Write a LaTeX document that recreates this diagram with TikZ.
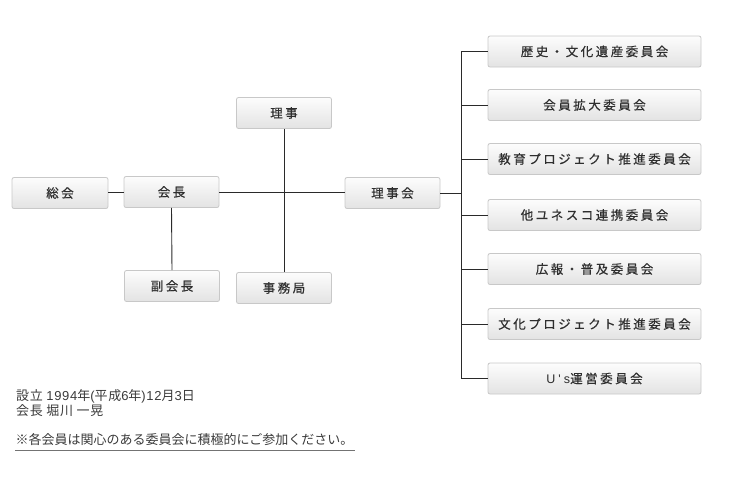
\documentclass[tikz,border=0pt]{standalone}
\usepackage{fontspec}
\setmainfont{Noto Sans CJK JP}
\newfontfamily\boxfont[LetterSpace=20,FakeBold=0.4]{Noto Sans CJK JP}
\newfontfamily\notefont[LetterSpace=5]{Noto Sans CJK JP}
\newfontfamily\lat[LetterSpace=5]{Liberation Sans}
\newfontfamily\boxlat[LetterSpace=25]{Liberation Sans}
\definecolor{txt}{HTML}{2E2E2E}
\definecolor{edge}{HTML}{C8C8C8}
\definecolor{ln}{HTML}{2A2A2A}
\definecolor{note}{HTML}{3A3A3A}
\begin{document}
\begin{tikzpicture}[x=1pt,y=-1pt,
  orgbox/.style={draw=edge, line width=0.8pt, rounded corners=2pt,
    top color=white!98!gray, bottom color=black!11,
    minimum height=31pt, inner sep=0pt, text=txt,
    font=\boxfont\fontsize{12.5}{14}\selectfont},
  small/.style={orgbox, minimum width=95pt},
  wide/.style={orgbox, minimum width=213pt},
  conn/.style={draw=ln, line width=0.9pt},
  notetext/.style={anchor=west, inner sep=0pt, text=note, font=\notefont\fontsize{13}{15}\selectfont}]
\useasboundingbox (0,0) rectangle (730,483);
\node[small, minimum width=96pt] (sokai) at (60,193) {総会};
\node[small] (kaicho) at (171.5,192) {会長};
\node[small] (riji) at (284,113) {理事};
\node[small] (fuku) at (172,286) {副会長};
\node[small] (jimu) at (284,288) {事務局};
\node[small] (rijikai) at (392.5,193) {理事会};

\node[wide] (c1) at (594.5,51.5) {歴史・文化遺産委員会};
\node[wide] (c2) at (594.5,105) {会員拡大委員会};
\node[wide] (c3) at (594.5,159) {教育プロジェクト推進委員会};
\node[wide] (c4) at (594.5,215) {他ユネスコ連携委員会};
\node[wide] (c5) at (594.5,269) {広報・普及委員会};
\node[wide] (c6) at (594.5,324) {文化プロジェクト推進委員会};
\node[wide] (c7) at (594.5,378.5) {{\boxlat U's}運営委員会};

\coordinate (bus) at (461,193);
\coordinate (bustop) at (461,51.5);
\coordinate (busbot) at (461,378.5);

\draw[conn] (sokai.east |- 0,192) -- (kaicho.west |- 0,192);
\draw[conn] (kaicho.east |- 0,192) -- (rijikai.west |- 0,192);
\draw[conn] (riji.south) -- (jimu.north);
\draw[conn] (kaicho.south) -- (fuku.north);
\draw[conn] (rijikai.east) -- (bus);
\draw[conn] (c1.west) -- (bustop) -- (busbot) -- (c7.west);
\foreach \c in {c2,c3,c4,c5,c6} \draw[conn] (\c.west) -- (\c.west -| bus);

\node[notetext] (n1) at (16,396) {設立 {\lat 1994}年{\lat (}平成{\lat 6}年{\lat )12}月{\lat 3}日};
\node[notetext] (n2) at (16,411) {会長 堀川 一晃};
\node[notetext, font=\fontsize{13}{15}\selectfont] (n3) at (15.5,440) {※各会員は関心のある委員会に積極的にご参加ください。};
\draw[draw=black!55, line width=0.8pt] (15,450.5) -- (355,450.5);
\end{tikzpicture}
\end{document}
